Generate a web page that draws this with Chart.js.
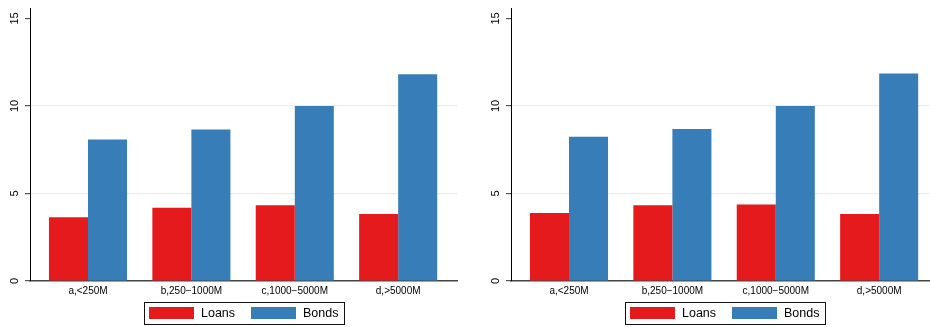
<!DOCTYPE html>
<html>
<head>
<meta charset="utf-8">
<title>Loans vs Bonds by size class</title>
<script src="https://cdn.jsdelivr.net/npm/chart.js@4/dist/chart.umd.min.js"></script>
<style>
  html, body { margin: 0; padding: 0; background: #fff; overflow: hidden; }
  .panel { position: absolute; top: 0; width: 470px; height: 327px; }
  #left { left: 0; }
  #right { left: 481px; }
</style>
</head>
<body>
<div class="panel" id="left"><canvas id="c1" width="470" height="327"></canvas></div>
<div class="panel" id="right"><canvas id="c2" width="470" height="327"></canvas></div>
<script>
// Size classes on the x axis
const categories = ['a,<250M', 'b,250\u22121000M', 'c,1000\u22125000M', 'd,>5000M'];
const yTicks = [0, 5, 10, 15];
const seriesNames = ['Loans', 'Bonds'];

// Left panel
const loansLeft = [3.64, 4.18, 4.33, 3.83];
const bondsLeft = [8.08, 8.66, 10.0, 11.82];

// Right panel
const loansRight = [3.89, 4.33, 4.37, 3.83];
const bondsRight = [8.24, 8.68, 10.0, 11.86];

const RED = '#E41A1C';
const BLUE = '#377EB8';
const FONT = 'Liberation Sans, Arial, Helvetica, sans-serif';

// Boxed legend centred under the plot area
const boxedLegend = {
  id: 'boxedLegend',
  afterDraw(chart) {
    const ctx = chart.ctx;
    const area = chart.chartArea;
    const cx = (area.left + area.right) / 2;
    const boxL = Math.round(cx - 100), boxT = 302, boxW = 200, boxH = 22;
    ctx.save();
    ctx.strokeStyle = '#111';
    ctx.lineWidth = 1;
    ctx.strokeRect(boxL + 0.5, boxT + 0.5, boxW, boxH);
    ctx.font = '12.5px ' + FONT;
    ctx.textBaseline = 'middle';
    chart.data.datasets.forEach((ds, i) => {
      const x0 = boxL + 5 + i * 102;
      ctx.fillStyle = ds.backgroundColor;
      ctx.fillRect(x0, boxT + 5, 45, 12);
      ctx.fillStyle = '#000';
      ctx.fillText(ds.label, x0 + 52, boxT + 12);
    });
    ctx.restore();
  }
};

function makeChart(id, loans, bonds) {
  const toPoints = arr => arr.map((v, i) => ({ x: i, y: v }));
  return new Chart(document.getElementById(id), {
    type: 'bar',
    data: {
      datasets: [
        { label: seriesNames[0], data: toPoints(loans), backgroundColor: RED,
          categoryPercentage: 0.755, barPercentage: 1.0 },
        { label: seriesNames[1], data: toPoints(bonds), backgroundColor: BLUE,
          categoryPercentage: 0.755, barPercentage: 1.0 }
      ]
    },
    options: {
      responsive: false,
      animation: false,
      layout: { padding: { top: 8, right: 13, left: 0, bottom: 0 } },
      plugins: { legend: { display: false }, tooltip: { enabled: false } },
      scales: {
        x: {
          type: 'linear',
          offset: false,
          min: -0.561,
          max: 3.569,
          afterBuildTicks: s => { s.ticks = categories.map((_, i) => ({ value: i })); },
          afterFit: s => { s.height = 46; },
          grid: { display: false, drawTicks: false, offset: false },
          border: { display: true, color: '#444', width: 1.5 },
          ticks: {
            padding: 4,
            maxRotation: 0, minRotation: 0,
            color: '#000',
            font: { family: FONT, size: 10 },
            callback: v => categories[v] ?? ''
          }
        },
        y: {
          min: 0,
          max: 15.6,
          afterBuildTicks: s => { s.ticks = yTicks.map(v => ({ value: v })); },
          afterFit: s => { s.width = 30; s.paddingTop = 0; s.paddingBottom = 0; },
          grid: {
            color: c => (c.tick && (c.tick.value === 5 || c.tick.value === 10)) ? '#ececec' : 'rgba(0,0,0,0)',
            lineWidth: 1.2,
            drawTicks: true,
            tickLength: 5,
            tickColor: '#555'
          },
          border: { display: true, color: '#000', width: 1 },
          ticks: {
            minRotation: 90, maxRotation: 90,
            crossAlign: 'center',
            padding: 4,
            color: '#000',
            font: { family: FONT, size: 11 }
          }
        }
      }
    },
    plugins: [boxedLegend]
  });
}

makeChart('c1', loansLeft, bondsLeft);
makeChart('c2', loansRight, bondsRight);
</script>
</body>
</html>
